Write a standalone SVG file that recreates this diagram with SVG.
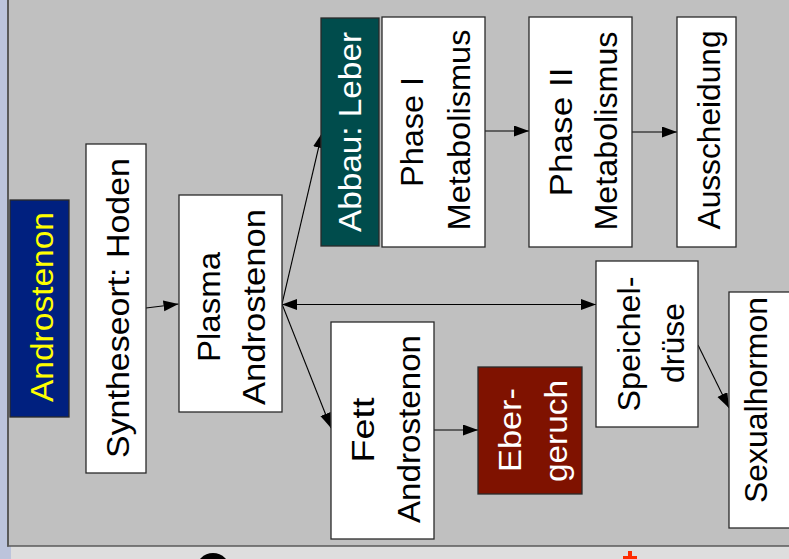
<svg xmlns="http://www.w3.org/2000/svg" width="789" height="559" viewBox="0 0 789 559">
<defs>
<style>
.box{stroke:#2a2a2a;stroke-width:1.3}
.w{fill:#ffffff}
.t{font-family:"Liberation Sans",Arial,sans-serif;font-size:32px;fill:#000;text-anchor:middle}
.lt{fill:#ffffff}
.con{stroke:#000;stroke-width:1.1;fill:none}
</style>
<marker id="ah" markerUnits="userSpaceOnUse" markerWidth="16" markerHeight="12" refX="15" refY="5.5" orient="auto-start-reverse">
<path d="M0,0 L15,5.5 L0,11 z" fill="#000"/>
</marker>
</defs>
<!-- frame -->
<rect x="0" y="0" width="789" height="559" fill="#dedede"/>
<rect x="0" y="0" width="8" height="559" fill="#bcc4dc"/>
<rect x="8" y="546" width="3" height="13" fill="#bcc4dc"/>
<rect x="8" y="0" width="781" height="546" fill="#c0c0c0"/>
<line x1="8" y1="0" x2="8" y2="546.5" stroke="#5a5a5a" stroke-width="2"/>
<line x1="7" y1="546" x2="789" y2="546" stroke="#5a5a5a" stroke-width="1.6"/>
<circle cx="213" cy="570" r="17" fill="#000"/>
<rect x="628" y="551" width="4" height="8" fill="#ff2a00"/>
<rect x="623" y="556" width="14" height="3" fill="#ff2a00"/>

<g id="connectors">
<line class="con" x1="146" y1="308" x2="178.5" y2="304" marker-end="url(#ah)"/>
<line class="con" x1="282" y1="304" x2="322" y2="133" marker-end="url(#ah)"/>
<line class="con" x1="282" y1="304" x2="331" y2="428" marker-end="url(#ah)"/>
<line class="con" x1="282" y1="304.5" x2="596" y2="304.5" marker-start="url(#ah)" marker-end="url(#ah)"/>
<line class="con" x1="485" y1="131" x2="529" y2="131" marker-end="url(#ah)"/>
<line class="con" x1="632" y1="132" x2="677" y2="132" marker-end="url(#ah)"/>
<line class="con" x1="434" y1="430" x2="478" y2="430" marker-end="url(#ah)"/>
<line class="con" x1="698" y1="345" x2="729" y2="408" marker-end="url(#ah)"/>
</g>

<g id="androstenon">
<rect class="box" x="10" y="200" width="59" height="217" fill="#00207f"/>
<text class="t" transform="translate(53,307) rotate(-90)" style="fill:#ffff00" textLength="190" lengthAdjust="spacingAndGlyphs">Androstenon</text>
</g>
<g id="syntheseort">
<rect class="box w" x="86" y="144" width="60" height="329"/>
<text class="t" transform="translate(129,308) rotate(-90)" textLength="300" lengthAdjust="spacingAndGlyphs">Syntheseort: Hoden</text>
</g>
<g id="plasma">
<rect class="box w" x="179" y="195" width="103" height="217"/>
<text class="t" transform="translate(220,307) rotate(-90)" textLength="110" lengthAdjust="spacingAndGlyphs">Plasma</text>
<text class="t" transform="translate(265,307) rotate(-90)" textLength="196" lengthAdjust="spacingAndGlyphs">Androstenon</text>
</g>
<g id="abbau">
<rect class="box" x="321" y="18" width="58" height="228" fill="#004c4c"/>
<text class="t lt" transform="translate(361,132) rotate(-90)" textLength="200" lengthAdjust="spacingAndGlyphs">Abbau: Leber</text>
</g>
<g id="phase1">
<rect class="box w" x="382" y="17" width="103" height="230"/>
<text class="t" transform="translate(423,132) rotate(-90)" textLength="110" lengthAdjust="spacingAndGlyphs">Phase I</text>
<text class="t" transform="translate(470,130) rotate(-90)" textLength="201" lengthAdjust="spacingAndGlyphs">Metabolismus</text>
</g>
<g id="phase2">
<rect class="box w" x="529" y="17" width="103" height="230"/>
<text class="t" transform="translate(572,132) rotate(-90)" textLength="129" lengthAdjust="spacingAndGlyphs">Phase II</text>
<text class="t" transform="translate(617,131) rotate(-90)" textLength="199" lengthAdjust="spacingAndGlyphs">Metabolismus</text>
</g>
<g id="ausscheidung">
<rect class="box w" x="677" y="17" width="59" height="230"/>
<text class="t" transform="translate(720,130) rotate(-90)" textLength="199" lengthAdjust="spacingAndGlyphs">Ausscheidung</text>
</g>
<g id="speicheldruese">
<rect class="box w" x="596" y="261" width="102" height="166"/>
<text class="t" transform="translate(640,344) rotate(-90)" textLength="135" lengthAdjust="spacingAndGlyphs">Speichel-</text>
<text class="t" transform="translate(684,343) rotate(-90)" textLength="80" lengthAdjust="spacingAndGlyphs">drüse</text>
</g>
<g id="sexualhormon">
<rect class="box w" x="729" y="292" width="70" height="236"/>
<text class="t" transform="translate(767,400) rotate(-90)" textLength="206" lengthAdjust="spacingAndGlyphs">Sexualhormon</text>
</g>
<g id="fett">
<rect class="box w" x="331" y="322" width="103" height="217"/>
<text class="t" transform="translate(374,430) rotate(-90)" textLength="65" lengthAdjust="spacingAndGlyphs">Fett</text>
<text class="t" transform="translate(420,429) rotate(-90)" textLength="188" lengthAdjust="spacingAndGlyphs">Androstenon</text>
</g>
<g id="ebergeruch">
<rect class="box" x="478" y="367" width="104" height="127" fill="#7f1200"/>
<text class="t lt" transform="translate(521,430) rotate(-90)" textLength="84" lengthAdjust="spacingAndGlyphs">Eber-</text>
<text class="t lt" transform="translate(567,431) rotate(-90)" textLength="102" lengthAdjust="spacingAndGlyphs">geruch</text>
</g>
</svg>
